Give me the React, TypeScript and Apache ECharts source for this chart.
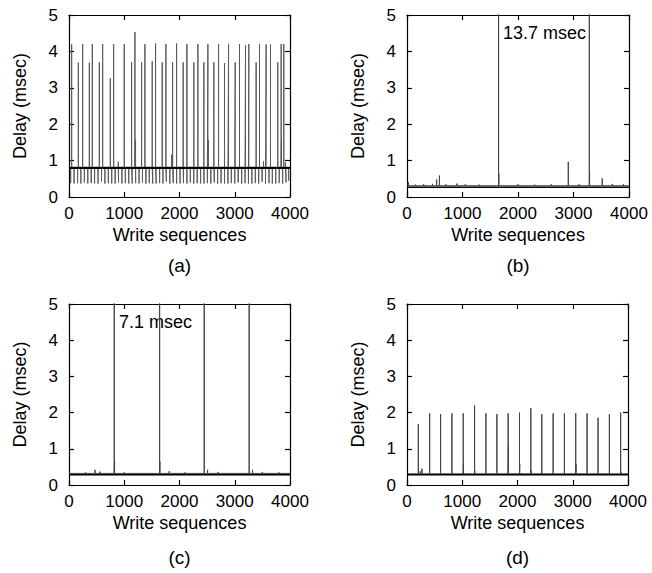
import React, { useEffect, useRef } from "react";
import * as echarts from "echarts";

const FONT = "'Liberation Sans', Arial, Helvetica, sans-serif";

const xTicks = [0, 1000, 2000, 3000, 4000];
const yTicks = [0, 1, 2, 3, 4, 5];
const panelLabels = ["(a)", "(b)", "(c)", "(d)"];
const xName = "Write sequences";
const yName = "Delay (msec)";
const annotations = ["", "13.7 msec", "7.1 msec", ""];

// ---- panel (a)
const aBaseline = 0.8;
const aLevel = 0.82;
const aSpikeX = [48, 169, 247, 368, 422, 549, 609, 748, 808, 892, 1000, 1133, 1193, 1205, 1314, 1374, 1506, 1567, 1687, 1754, 1857, 1875, 1947, 2067, 2134, 2260, 2333, 2441, 2514, 2522, 2622, 2707, 2815, 2888, 3008, 3086, 3195, 3255, 3387, 3448, 3521, 3568, 3647, 3779, 3840, 3846, 3888, 3918];
const aSpikeY = [4.19, 3.69, 4.2, 3.69, 4.2, 3.7, 4.2, 3.26, 4.2, 0.97, 4.2, 3.7, 4.53, 1.57, 3.7, 4.2, 3.73, 4.22, 3.7, 4.2, 1.16, 3.7, 4.22, 3.7, 4.2, 3.7, 4.2, 3.7, 4.2, 1.57, 3.7, 4.2, 3.68, 4.19, 3.7, 4.2, 4.17, 4.2, 3.7, 4.2, 0.98, 4.19, 4.19, 3.7, 4.2, 1.6, 4.2, 0.95];
const aDipX = [30, 92, 155, 215, 278, 340, 402, 463, 525, 588, 650, 712, 773, 835, 897, 958, 1020, 1082, 1145, 1206, 1268, 1330, 1392, 1453, 1515, 1577, 1640, 1700, 1762, 1825, 1887, 1948, 2010, 2072, 2135, 2196, 2258, 2320, 2382, 2443, 2505, 2567, 2630, 2690, 2752, 2815, 2877, 2938, 3000, 3062, 3125, 3186, 3248, 3310, 3372, 3433, 3495, 3557, 3620, 3680, 3742, 3805, 3867, 3928, 3975];
const aDipY = [0.38, 0.37, 0.38, 0.37, 0.4, 0.37, 0.38, 0.37, 0.37, 0.42, 0.37, 0.38, 0.37, 0.37, 0.4, 0.37, 0.38, 0.37, 0.37, 0.38, 0.37, 0.4, 0.37, 0.38, 0.37, 0.37, 0.38, 0.37, 0.42, 0.37, 0.38, 0.37, 0.37, 0.38, 0.37, 0.4, 0.37, 0.38, 0.37, 0.37, 0.38, 0.37, 0.4, 0.37, 0.38, 0.37, 0.37, 0.38, 0.37, 0.4, 0.37, 0.38, 0.37, 0.37, 0.38, 0.37, 0.42, 0.37, 0.38, 0.37, 0.37, 0.38, 0.37, 0.4, 0.45];

// ---- panel (b)
const bBaseline = 0.27;
const bLevel = 0.31;
const bSpikeX = [24, 150, 300, 460, 534, 584, 700, 900, 1050, 1300, 1650, 1655, 2000, 2300, 2600, 2906, 3100, 3285, 3290, 3518, 3700, 3900];
const bSpikeY = [0.41, 0.34, 0.35, 0.36, 0.48, 0.59, 0.35, 0.37, 0.35, 0.34, 13.7, 0.64, 0.35, 0.34, 0.35, 0.97, 0.35, 13.7, 0.64, 0.51, 0.36, 0.35];

// ---- panel (c)
const cBaseline = 0.28;
const cLevel = 0.32;
const cSpikeX = [300, 470, 560, 819, 825, 1000, 1640, 1645, 1814, 2100, 2447, 2508, 2700, 3261, 3322, 3500, 3800];
const cSpikeY = [0.35, 0.42, 0.37, 7.1, 0.65, 0.35, 7.1, 0.65, 0.38, 0.35, 7.1, 0.42, 0.36, 7.1, 0.42, 0.36, 0.35];

// ---- panel (d)
const dBaseline = 0.28;
const dLevel = 0.31;
const dSpikeX = [205, 240, 271, 410, 608, 813, 1018, 1023, 1223, 1228, 1428, 1627, 1831, 1836, 2036, 2041, 2241, 2245, 2440, 2645, 2849, 3054, 3059, 3259, 3458, 3663, 3867, 3872];
const dSpikeY = [1.68, 0.38, 0.45, 1.98, 1.96, 1.98, 1.98, 0.6, 2.2, 0.38, 1.98, 1.96, 1.98, 1.08, 2.0, 0.58, 2.12, 0.4, 1.96, 1.98, 1.98, 1.98, 0.58, 1.98, 1.86, 1.96, 2.0, 0.36];

type Panel = { baseline: number; level: number; xs: number[]; ys: number[]; color: string };
const panels: Panel[] = [
  { baseline: aBaseline, level: aLevel, xs: [...aSpikeX, ...aDipX], ys: [...aSpikeY, ...aDipY], color: "#5a5a5a" },
  { baseline: bBaseline, level: bLevel, xs: bSpikeX, ys: bSpikeY, color: "#444" },
  { baseline: cBaseline, level: cLevel, xs: cSpikeX, ys: cSpikeY, color: "#444" },
  { baseline: dBaseline, level: dLevel, xs: dSpikeX, ys: dSpikeY, color: "#444" },
];

function spikePath(p: Panel): number[][] {
  const idx = p.xs.map((_, i) => i).sort((i, j) => p.xs[i] - p.xs[j]);
  const xMin = xTicks[0];
  const xMax = xTicks[xTicks.length - 1];
  const out: number[][] = [[xMin, p.level]];
  idx.forEach((i) => {
    out.push([p.xs[i], p.level], [p.xs[i], p.ys[i]], [p.xs[i], p.level]);
  });
  out.push([xMax, p.level]);
  return out;
}

const grids = [
  { left: 69, top: 15, width: 221, height: 182 },
  { left: 407, top: 15, width: 222, height: 182 },
  { left: 69, top: 304, width: 221, height: 181 },
  { left: 407, top: 304, width: 221, height: 181 },
];

export default function App() {
  const ref = useRef<HTMLDivElement>(null);
  useEffect(() => {
    if (!ref.current) return;
    const chart = echarts.init(ref.current, undefined, { renderer: "svg" });
    const xMin = xTicks[0];
    const xMax = xTicks[xTicks.length - 1];
    const yMin = yTicks[0];
    const yMax = yTicks[yTicks.length - 1];
    const lineSt = { color: "#000", width: 1.2 };
    const xAxes: any[] = [];
    const yAxes: any[] = [];
    const series: any[] = [];
    const graphics: any[] = [];
    const fmt = (v: number) => String(v);
    grids.forEach((g, i) => {
      const common = {
        gridIndex: i,
        type: "value",
        splitLine: { show: false },
        axisLine: { show: true, onZero: false, lineStyle: lineSt },
        axisTick: { show: true, inside: true, length: 5, lineStyle: lineSt },
      };
      xAxes.push({
        ...common,
        position: "bottom",
        min: xMin,
        max: xMax,
        interval: xTicks[1] - xTicks[0],
        axisLabel: { fontSize: 17, color: "#000", margin: 8, fontFamily: FONT, formatter: fmt },
        name: xName,
        nameLocation: "middle",
        nameGap: 29,
        nameTextStyle: { fontSize: 18, color: "#000", fontFamily: FONT },
      });
      xAxes.push({
        ...common,
        position: "top",
        min: xMin,
        max: xMax,
        interval: xTicks[1] - xTicks[0],
        axisLabel: { show: false },
      });
      yAxes.push({
        ...common,
        position: "left",
        min: yMin,
        max: yMax,
        interval: yTicks[1] - yTicks[0],
        axisLabel: { fontSize: 17, color: "#000", margin: 11, fontFamily: FONT, formatter: fmt },
        name: yName,
        nameLocation: "middle",
        nameGap: 40,
        nameTextStyle: { fontSize: 18, color: "#000", fontFamily: FONT },
      });
      yAxes.push({
        ...common,
        position: "right",
        min: yMin,
        max: yMax,
        interval: yTicks[1] - yTicks[0],
        axisLabel: { show: false },
      });
      const p = panels[i];
      series.push({
        type: "line",
        xAxisIndex: 2 * i,
        yAxisIndex: 2 * i,
        data: spikePath(p),
        symbol: "none",
        clip: true,
        lineStyle: { color: p.color, width: 1 },
        z: 2,
      });
      series.push({
        type: "line",
        xAxisIndex: 2 * i,
        yAxisIndex: 2 * i,
        data: [
          [xMin, p.baseline],
          [xMax, p.baseline],
        ],
        symbol: "none",
        clip: true,
        lineStyle: { color: "#000", width: i === 0 ? 2 : 1.5 },
        z: 3,
      });
      const labelY = i < 2 ? 265 : 557;
      graphics.push({
        type: "text",
        x: g.left + g.width / 2,
        y: labelY,
        style: {
          text: panelLabels[i],
          fontSize: 19,
          fontFamily: FONT,
          fill: "#000",
          textAlign: "center",
          textVerticalAlign: "middle",
        },
      });
      if (annotations[i]) {
        graphics.push({
          type: "text",
          x: i === 1 ? 503 : 119,
          y: i === 1 ? 33 : 322,
          style: {
            text: annotations[i],
            fontSize: 18,
            fontFamily: FONT,
            fill: "#000",
            textAlign: "left",
            textVerticalAlign: "middle",
          },
        });
      }
    });
    chart.setOption({
      animation: false,
      backgroundColor: "#fff",
      grid: grids,
      xAxis: xAxes,
      yAxis: yAxes,
      series,
      graphic: graphics,
    });
    return () => chart.dispose();
  }, []);
  return (
    <div
      ref={ref}
      style={{ position: "fixed", left: 0, top: 0, width: 652, height: 573, background: "#fff" }}
    />
  );
}
